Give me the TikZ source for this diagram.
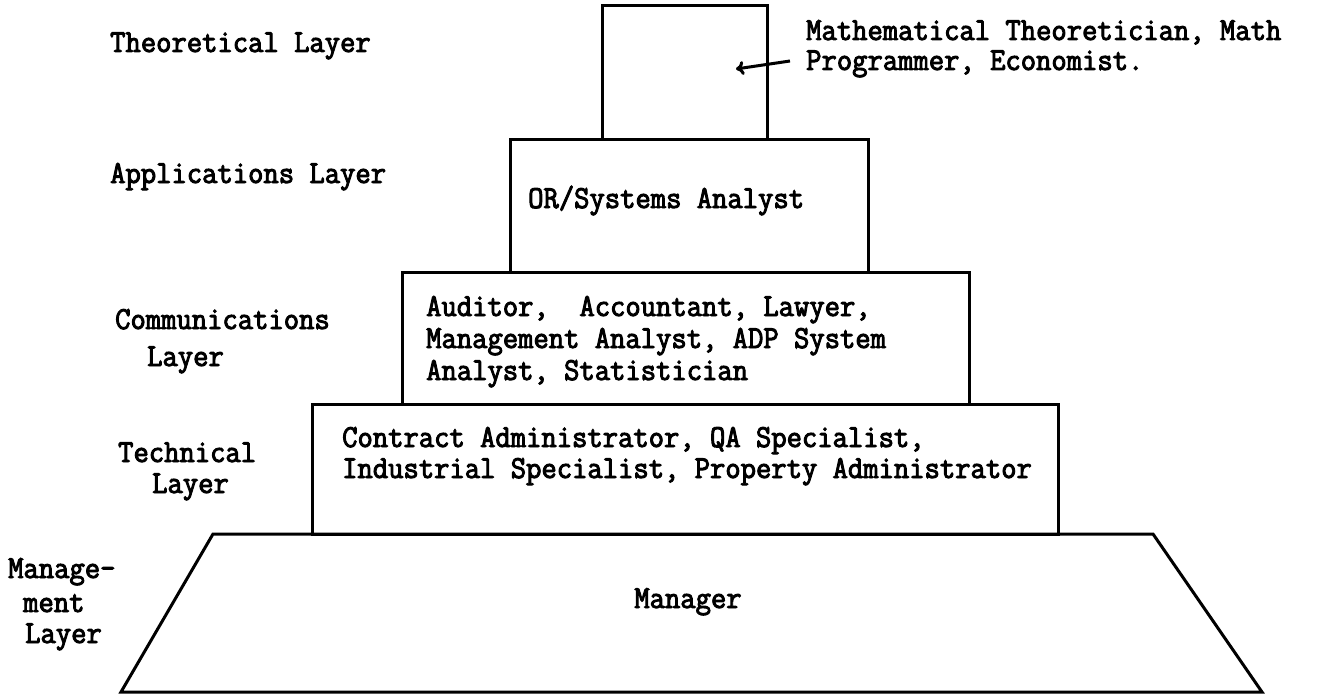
\documentclass[tikz,border=0pt]{standalone}
\usepackage{fontspec}
\newfontfamily\tw[FakeBold=3,FakeStretch=0.93]{Latin Modern Mono}
\usetikzlibrary{arrows.meta}
\begin{document}
\begin{tikzpicture}[x=1pt,y=-1pt,
  boxline/.style={draw=black,line width=3pt,line join=miter},
  lbl/.style={anchor=base west,inner sep=0pt,font=\tw\fontsize{32}{32}\selectfont,text=black},
  arr/.style={line width=3pt,-{To[length=8pt,width=14pt]}}
  ]
\useasboundingbox (0,0) rectangle (1327,695);
% boxes
\draw[boxline] (602,6) rectangle (767,140);
\draw[boxline] (510,140) rectangle (868,272);
\draw[boxline] (402,272) rectangle (969,404);
\draw[boxline] (312,404) rectangle (1058,534);
\draw[boxline] (213,534) -- (1153,534) -- (1262,692) -- (121,692) -- cycle;
% left labels
\node[lbl] (lt) at (110,52) {Theoretical Layer};
\node[lbl] (la) at (110,183) {Applications Layer};
\node[lbl] (lc1) at (115,329) {Communications};
\node[lbl] (lc2) at (147,366) {Layer};
\node[lbl] (ltc1) at (118,462) {Technical};
\node[lbl] (ltc2) at (152,493) {Layer};
\node[lbl] (lm1) at (8,578) {Manage-};
\node[lbl] (lm2) at (23,612) {ment};
\node[lbl] (lm3) at (25,643) {Layer};
% box texts
\node[lbl] (m1) at (806,40) {Mathematical Theoretician, Math};
\node[lbl] (m2) at (806,70) {Programmer, Economist.};
\node[lbl] (ap) at (528,208) {OR/Systems Analyst};
\node[lbl] (c1) at (426,316) {Auditor,\ \ Accountant, Lawyer,};
\node[lbl] (c2) at (426,348) {Management Analyst, ADP System};
\node[lbl] (c3) at (426,380) {Analyst, Statistician};
\node[lbl] (t1) at (342,447) {Contract Administrator, QA Specialist,};
\node[lbl] (t2) at (342,478) {Industrial Specialist, Property Administrator};
\node[lbl,anchor=base] (mg) at (688,608) {Manager};
% arrow
\coordinate (atail) at (790,61);
\coordinate (atip) at (736,69);
\draw[arr] (atail) -- (atip);
\end{tikzpicture}
\end{document}
